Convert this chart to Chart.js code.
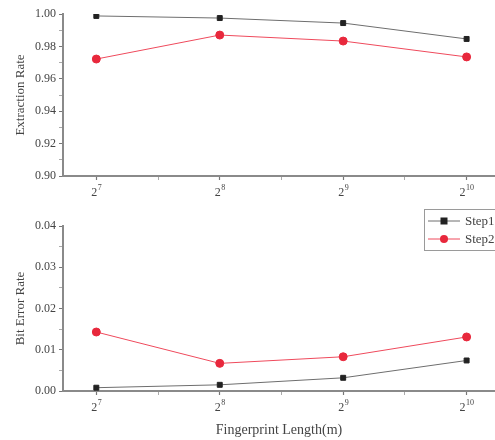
<!DOCTYPE html>
<html>
<head>
<meta charset="utf-8">
<script src="https://cdn.jsdelivr.net/npm/chart.js@4"></script>
<style>
  html, body { margin: 0; padding: 0; background: #fff; overflow: hidden; }
  #wrap { position: relative; width: 495px; height: 440px; overflow: hidden; }
  #topBox { position: absolute; left: 0; top: 0; width: 500px; height: 200px; }
  #botBox { position: absolute; left: 0; top: 200px; width: 500px; height: 240px; }
</style>
</head>
<body>
<div id="wrap">
  <div id="topBox"><canvas id="rateChart"></canvas></div>
  <div id="botBox"><canvas id="errorChart"></canvas></div>
</div>
<script>
// fingerprint length exponents (2^n)
const exponents = [7, 8, 9, 10];
const seriesNames = ["Step1", "Step2"];

// extraction rate
const extractStep1 = [0.9988, 0.9975, 0.9944, 0.9846];
const extractStep2 = [0.9722, 0.9870, 0.9833, 0.9735];

// bit error rate
const errorStep1 = [0.0008, 0.0015, 0.0032, 0.0074];
const errorStep2 = [0.0143, 0.0067, 0.0083, 0.0131];

const textColor = "#444";
const axisColor = "#8a8a8a";

function toPoints(vals) {
  return exponents.map((e, i) => ({ x: e, y: vals[i] }));
}

function makeDatasets(a, b) {
  return [
    {
      label: seriesNames[0],
      data: toPoints(a),
      borderColor: "#6e6e6e",
      borderWidth: 1,
      pointStyle: "rect",
      pointRadius: 3.5,
      pointBackgroundColor: "#222",
      pointBorderColor: "#222",
    },
    {
      label: seriesNames[1],
      data: toPoints(b),
      borderColor: "#ef4a5c",
      borderWidth: 1,
      pointStyle: "circle",
      pointRadius: 4,
      pointBackgroundColor: "#e8283c",
      pointBorderColor: "#e8283c",
    },
  ];
}

function xScale(height, withTitle) {
  return {
    type: "linear",
    min: 6.73,
    max: 10.23,
    afterBuildTicks: (s) => {
      s.ticks = [7, 7.5, 8, 8.5, 9, 9.5, 10].map((v) => ({ value: v }));
    },
    afterFit: (s) => { s.height = height; },
    border: { color: axisColor, width: 2 },
    grid: {
      drawOnChartArea: false,
      tickLength: 4,
      tickColor: (c) => (Number.isInteger(c.tick.value) ? "#777" : "#aaa"),
      tickWidth: (c) => (Number.isInteger(c.tick.value) ? 1.2 : 1),
    },
    ticks: {
      autoSkip: false,
      maxRotation: 0,
      callback: () => "",
    },
    title: {
      display: withTitle,
      text: "Fingerprint Length(m)",
      color: textColor,
      font: { family: "Liberation Serif", size: 14 },
      padding: { top: 2, bottom: 1 },
    },
  };
}

function yScale(min, max, step, minor, digits, title) {
  const vals = [];
  for (let v = min; v <= max + 1e-9; v += minor) vals.push(+v.toFixed(4));
  const isMajor = (v) => Math.abs(Math.round((v - min) / step) * step - (v - min)) < 1e-6;
  return {
    type: "linear",
    min: min,
    max: max,
    afterBuildTicks: (s) => { s.ticks = vals.map((v) => ({ value: v })); },
    afterFit: (s) => { s.width = 63; },
    border: { color: axisColor, width: 2 },
    grid: {
      drawOnChartArea: false,
      tickLength: 4,
      tickColor: (c) => (isMajor(c.tick.value) ? "#777" : "#aaa"),
    },
    ticks: {
      autoSkip: false,
      padding: 3,
      color: textColor,
      font: { family: "Liberation Serif", size: 12 },
      callback: (v) => (isMajor(v) ? v.toFixed(digits) : ""),
    },
    title: {
      display: true,
      text: title,
      color: textColor,
      font: { family: "Liberation Serif", size: 13 },
      padding: { top: 13, bottom: 4 },
    },
  };
}

// x labels as 2 with a raised exponent
const powerLabels = {
  id: "powerLabels",
  afterDraw(chart) {
    const ctx = chart.ctx;
    const xs = chart.scales.x;
    const y = xs.top + 17;
    ctx.save();
    ctx.fillStyle = textColor;
    ctx.textBaseline = "middle";
    exponents.forEach((e) => {
      const px = xs.getPixelForValue(e);
      ctx.font = "12px 'Liberation Serif'";
      const wb = ctx.measureText("2").width;
      ctx.font = "8px 'Liberation Serif'";
      const we = ctx.measureText(String(e)).width;
      const left = px - (wb + we) / 2;
      ctx.font = "12px 'Liberation Serif'";
      ctx.fillText("2", left, y);
      ctx.font = "8px 'Liberation Serif'";
      ctx.fillText(String(e), left + wb + 0.5, y - 5);
    });
    ctx.restore();
  },
};

// legend box drawn inside the lower chart, like the original figure
const boxLegend = {
  id: "boxLegend",
  afterDraw(chart) {
    const ctx = chart.ctx;
    const x0 = 424, y0 = 9;
    ctx.save();
    ctx.strokeStyle = "#9a9a9a";
    ctx.lineWidth = 1;
    ctx.strokeRect(x0 + 0.5, y0 + 0.5, 90, 41);
    chart.data.datasets.forEach((ds, i) => {
      const y = y0 + 12 + i * 18;
      ctx.strokeStyle = ds.borderColor;
      ctx.beginPath();
      ctx.moveTo(x0 + 4, y);
      ctx.lineTo(x0 + 36, y);
      ctx.stroke();
      ctx.fillStyle = ds.pointBackgroundColor;
      if (ds.pointStyle === "rect") {
        ctx.fillRect(x0 + 16.5, y - 3.5, 7, 7);
      } else {
        ctx.beginPath();
        ctx.arc(x0 + 20, y, 4, 0, Math.PI * 2);
        ctx.fill();
      }
      ctx.fillStyle = textColor;
      ctx.font = "13px 'Liberation Serif'";
      ctx.textBaseline = "middle";
      ctx.fillText(ds.label, x0 + 41, y + 1);
    });
    ctx.restore();
  },
};

function baseOptions(pad) {
  return {
    responsive: true,
    maintainAspectRatio: false,
    animation: false,
    layout: { padding: pad },
    plugins: { legend: { display: false }, tooltip: { enabled: false } },
  };
}

const topOpts = baseOptions({ top: 14, right: 0, left: 0, bottom: 0 });
topOpts.scales = {
  x: xScale(24, false),
  y: yScale(0.9, 1.0, 0.02, 0.01, 2, "Extraction Rate"),
};
new Chart(document.getElementById("rateChart"), {
  type: "line",
  data: { datasets: makeDatasets(extractStep1, extractStep2) },
  options: topOpts,
  plugins: [powerLabels],
});

const botOpts = baseOptions({ top: 26, right: 0, left: 0, bottom: 0 });
botOpts.scales = {
  x: xScale(49, true),
  y: yScale(0.0, 0.04, 0.01, 0.005, 2, "Bit Error Rate"),
};
new Chart(document.getElementById("errorChart"), {
  type: "line",
  data: { datasets: makeDatasets(errorStep1, errorStep2) },
  options: botOpts,
  plugins: [powerLabels, boxLegend],
});
</script>
</body>
</html>
